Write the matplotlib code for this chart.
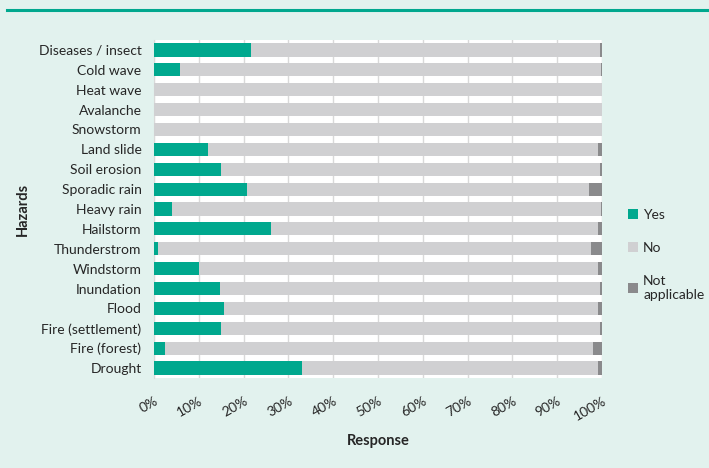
import matplotlib.pyplot as plt
from matplotlib.lines import Line2D

plt.rcParams['font.family'] = ['Lato', 'DejaVu Sans']

hazards = ["Diseases / insect", "Cold wave", "Heat wave", "Avalanche", "Snowstorm",
           "Land slide", "Soil erosion", "Sporadic rain", "Heavy rain", "Hailstorm",
           "Thunderstrom", "Windstorm", "Inundation", "Flood", "Fire (settlement)",
           "Fire (forest)", "Drought"]
yes = [21.7, 5.8, 0, 0, 0, 12.1, 15.0, 20.8, 4.1, 26.1, 1.0, 10.1, 14.7, 15.6, 15.0, 2.4, 33.0]
not_app = [0.5, 0.2, 0, 0, 0, 0.8, 0.5, 2.8, 0.3, 1.0, 2.5, 0.8, 0.5, 1.0, 0.5, 2.1, 1.0]
no = [100 - a - b for a, b in zip(yes, not_app)]

teal = "#00a88e"
light = "#d0d0d2"
dark = "#8a8a8c"
bg = "#e2f2ee"

fig = plt.figure(figsize=(7.09, 4.68), dpi=100, facecolor=bg)
ax = fig.add_axes([154/709, 1 - 378/468, 448/709, 338/468])
ax.set_facecolor("white")

pos = list(range(len(hazards)))[::-1]
h = 0.66
ax.barh(pos, yes, height=h, color=teal, label="Yes", zorder=3)
left2 = yes
ax.barh(pos, no, left=left2, height=h, color=light, label="No", zorder=3)
left3 = [a + b for a, b in zip(yes, no)]
ax.barh(pos, not_app, left=left3, height=h, color=dark, label="Not\napplicable", zorder=3)

ax.set_xlim(0, 100)
ax.set_ylim(-0.5, len(hazards) - 0.5)
ax.set_yticks(pos)
ax.set_yticklabels(hazards, fontsize=10, color="#262626")
ax.set_xticks(range(0, 101, 10))
ax.set_xticklabels([f"{v}%" for v in range(0, 101, 10)], rotation=30, ha="right",
                   rotation_mode="anchor", fontsize=10, color="#262626")
ax.tick_params(axis="y", length=0, pad=9)
ax.tick_params(axis="x", length=0, pad=12)
ax.grid(axis="x", color="#d9d9d9", linewidth=1, zorder=0)
for s in ["top", "right", "bottom"]:
    ax.spines[s].set_visible(False)
ax.spines["left"].set_color("#d9d9d9")

ax.set_xlabel("Response", fontsize=10.5, fontweight="bold", color="#262626", labelpad=8)
ax.set_ylabel("Hazards", fontsize=10.5, fontweight="bold", color="#262626", labelpad=6)

leg = fig.legend(loc="center left", bbox_to_anchor=(0.868, 0.455), frameon=False,
                 fontsize=10, handlelength=0.75, handleheight=0.75, labelspacing=1.5,
                 handletextpad=0.35)
for t in leg.get_texts():
    t.set_color("#262626")

fig.add_artist(Line2D([7/709, 1], [1 - 10/468, 1 - 10/468], color=teal, linewidth=2.2))

fig.savefig("out.png", dpi=100, facecolor=bg)
